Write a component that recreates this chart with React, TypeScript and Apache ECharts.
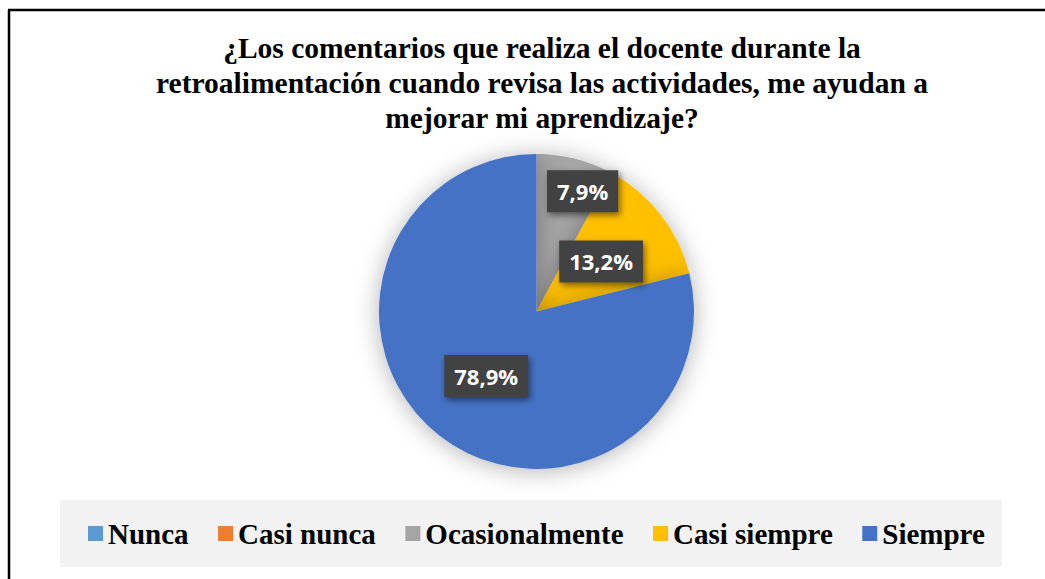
import React, { useEffect, useRef } from "react";
import * as echarts from "echarts";

const categories = ["Nunca", "Casi nunca", "Ocasionalmente", "Casi siempre", "Siempre"];
const percentages = [0, 0, 7.9, 13.2, 78.9];
const colors = ["#5B9BD5", "#ED7D31", "#A5A5A5", "#FFC000", "#4472C4"];
const titleText =
  "¿Los comentarios que realiza el docente durante la\nretroalimentación cuando revisa las actividades, me ayudan a\nmejorar mi aprendizaje?";
const labelOffsets: Record<string, number[]> = { Ocasionalmente: [26, -41] };

export default function App() {
  const ref = useRef<HTMLDivElement>(null);
  useEffect(() => {
    if (!ref.current) return;
    const chart = echarts.init(ref.current, undefined, { renderer: "svg" });
    const data = categories.map((name, i) => ({
      name,
      value: percentages[i],
      itemStyle: { color: colors[i] },
      label: {
        show: percentages[i] > 0,
        offset: labelOffsets[name] || [0, 0],
      },
    }));
    chart.setOption({
      animation: false,
      backgroundColor: "#ffffff",
      legend: {
        data: categories,
        top: 500,
        left: 60,
        padding: [19, 17, 19, 28],
        backgroundColor: "#f2f2f2",
        itemGap: 29.5,
        itemWidth: 15,
        itemHeight: 15,
        icon: "rect",
        selectedMode: false,
        textStyle: {
          fontFamily: "Liberation Serif",
          fontWeight: "bold",
          fontSize: 29,
          color: "#000",
        },
      },
      graphic: [
        { type: "line", shape: { x1: 8, y1: 10, x2: 1045, y2: 10 }, style: { stroke: "#000", lineWidth: 2.5 } },
        { type: "line", shape: { x1: 9, y1: 10, x2: 9, y2: 579 }, style: { stroke: "#000", lineWidth: 2.5 } },
        {
          type: "text",
          x: 542,
          y: 30,
          style: {
            text: titleText,
            textAlign: "center",
            textVerticalAlign: "top",
            fontFamily: "Liberation Serif",
            fontWeight: "bold",
            fontSize: 29.5,
            lineHeight: 35,
            fill: "#000",
          },
        },
      ],
      series: [
        {
          type: "pie",
          center: [536.5, 311.5],
          radius: [0, 157.5],
          startAngle: 90,
          clockwise: true,
          avoidLabelOverlap: false,
          itemStyle: {
            shadowBlur: 24,
            shadowColor: "rgba(0,0,0,0.3)",
            shadowOffsetX: 0,
            shadowOffsetY: 2,
          },
          label: {
            position: "inside",
            formatter: (p: any) => p.value.toFixed(1).replace(".", ",") + "%",
            fontFamily: "Open Sans",
            fontWeight: "bold",
            fontSize: 22,
            lineHeight: 28,
            color: "#ffffff",
            backgroundColor: "#424242",
            padding: [7, 10, 7, 10],
            shadowBlur: 6,
            shadowColor: "rgba(0,0,0,0.5)",
            shadowOffsetX: 2,
            shadowOffsetY: 3,
          },
          labelLine: { show: false },
          emphasis: { disabled: true },
          data,
        },
      ],
    });
    return () => chart.dispose();
  }, []);
  return (
    <div
      ref={ref}
      style={{ position: "fixed", left: 0, top: 0, width: 1045, height: 579 }}
    />
  );
}
